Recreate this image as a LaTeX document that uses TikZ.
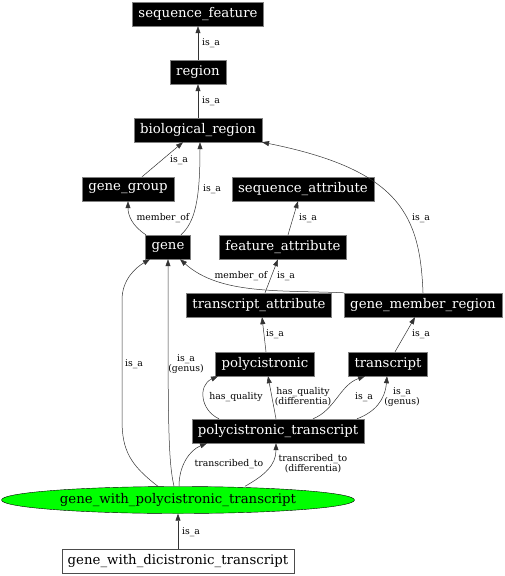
\documentclass[tikz,border=0pt]{standalone}
\usepackage{fontspec}
\setmainfont{DejaVu Serif}
\usetikzlibrary{arrows.meta,shapes.geometric}

\begin{document}
\begin{tikzpicture}[x=1pt, y=-1pt,
    every node/.style={font=\fontsize{13.3}{15}\selectfont},
    term/.style={fill=black, draw=gray, text=white, inner xsep=6pt, inner ysep=0pt, minimum height=24pt},
    focus/.style={ellipse, fill=green, draw=black, inner sep=0pt, minimum width=353pt, minimum height=27pt},
    plain/.style={fill=white, draw=black!70, inner xsep=6pt, inner ysep=0pt, minimum height=24pt},
    lbl/.style={font=\fontsize{9.3}{10}\selectfont, align=center, inner sep=0pt},
    rel/.style={-{Triangle[length=7pt,width=5pt]}, line width=0.5pt, black!80}]
    \useasboundingbox (0,0) rectangle (505,576);

    % Terms
    \node[term] (seqfeat) at (198,14) {sequence\_feature};
    \node[term] (region) at (198,72) {region};
    \node[term] (bioreg) at (198,130) {biological\_region};
    \node[term] (genegroup) at (128,189) {gene\_group};
    \node[term] (seqattr) at (303,189) {sequence\_attribute};
    \node[term] (gene) at (168,247) {gene};
    \node[term] (featattr) at (283,247) {feature\_attribute};
    \node[term] (transattr) at (259,305) {transcript\_attribute};
    \node[term] (genemember) at (423,305) {gene\_member\_region};
    \node[term] (polycis) at (265,364) {polycistronic};
    \node[term] (transcript) at (388,364) {transcript};
    \node[term] (polytrans) at (278,431) {polycistronic\_transcript};
    \node[focus] (genepoly) at (178,500) {gene\_with\_polycistronic\_transcript};
    \node[plain] (genedicis) at (178,561) {gene\_with\_dicistronic\_transcript};

    % Upper part of the hierarchy
    \draw[rel] (region.north) -- (seqfeat.south);
    \draw[rel] (bioreg.north) -- (region.south);
    \draw[rel] ([xshift=14pt]genegroup.north) -- ([xshift=-15pt]bioreg.south);
    \draw[rel] ([xshift=13pt]gene.north) .. controls (195,222) and (200,200) .. ([xshift=2pt]bioreg.south);
    \draw[rel] ([xshift=-22pt]gene.north) .. controls (132,226) and (128,215) .. (genegroup.south);
    \draw[rel] (genemember.north) .. controls (420,215) and (400,170) .. (bioreg.south east);
    \draw[rel] ([xshift=5pt]featattr.north) -- ([xshift=-5pt]seqattr.south);
    \draw[rel] ([xshift=6pt]transattr.north) -- ([xshift=-5pt]featattr.south);
    \draw[rel] (genemember.north west) .. controls (280,290) and (220,295) .. ([xshift=12pt]gene.south);
    \draw[rel] ([xshift=1pt]polycis.north) -- ([xshift=3pt]transattr.south);
    \draw[rel] ([xshift=7pt]transcript.north) -- ([xshift=-8pt]genemember.south);

    % Lower part
    \draw[rel] ([xshift=-20pt]genepoly.north) .. controls (130,465) and (122,450) .. (122,420)
        -- (122,300) .. controls (122,280) and (135,268) .. ([xshift=-18pt]gene.south);
    \draw[rel] ([xshift=-4pt]genepoly.north) .. controls (168,460) and (168,420) .. (gene.south);
    \draw[rel] ([xshift=-59pt]polytrans.north) .. controls (200,410) and (198,385) .. ([xshift=-47pt]polycis.south);
    \draw[rel] ([xshift=-2pt]polytrans.north) -- ([xshift=3pt]polycis.south);
    \draw[rel] ([xshift=35pt]polytrans.north) .. controls (335,410) and (340,385) .. ([xshift=-23pt]transcript.south);
    \draw[rel] ([xshift=79pt]polytrans.north) .. controls (375,412) and (385,400) .. ([xshift=-1pt]transcript.south);
    \draw[rel] ([xshift=1pt]genepoly.north) .. controls (179,465) and (190,450) .. ([xshift=-71pt]polytrans.south);
    \draw[rel] ([xshift=67pt]genepoly.north) .. controls (265,475) and (276,465) .. ([xshift=-2pt]polytrans.south);
    \draw[rel] (genedicis.north) -- (genepoly.south);

    % Edge labels
    \node[lbl] (l-seqfeat) at (211,43) {is\_a};
    \node[lbl] (l-region) at (211,101) {is\_a};
    \node[lbl] (l-genegroup) at (179,160) {is\_a};
    \node[lbl] (l-gene) at (212,189) {is\_a};
    \node[lbl] (l-member) at (163,218) {member\_of};
    \node[lbl] (l-featattr) at (308,218) {is\_a};
    \node[lbl] (l-genemember) at (421,218) {is\_a};
    \node[lbl] (l-memberof) at (241,276) {member\_of};
    \node[lbl] (l-transattr) at (286,276) {is\_a};
    \node[lbl] (l-polycis) at (275,334) {is\_a};
    \node[lbl] (l-transcript) at (421,334) {is\_a};
    \node[lbl] (l-genepoly) at (134,364) {is\_a};
    \node[lbl] (l-genus) at (186,364) {is\_a\\(genus)};
    \node[lbl] (l-quality) at (236,397) {has\_quality};
    \node[lbl] (l-qualdiff) at (303,397) {has\_quality\\(differentia)};
    \node[lbl] (l-polytrans) at (364,397) {is\_a};
    \node[lbl] (l-transgenus) at (402,397) {is\_a\\(genus)};
    \node[lbl] (l-transcribed) at (229,464) {transcribed\_to};
    \node[lbl] (l-transdiff) at (313,464) {transcribed\_to\\(differentia)};
    \node[lbl] (l-genedicis) at (191,532) {is\_a};
\end{tikzpicture}
\end{document}
